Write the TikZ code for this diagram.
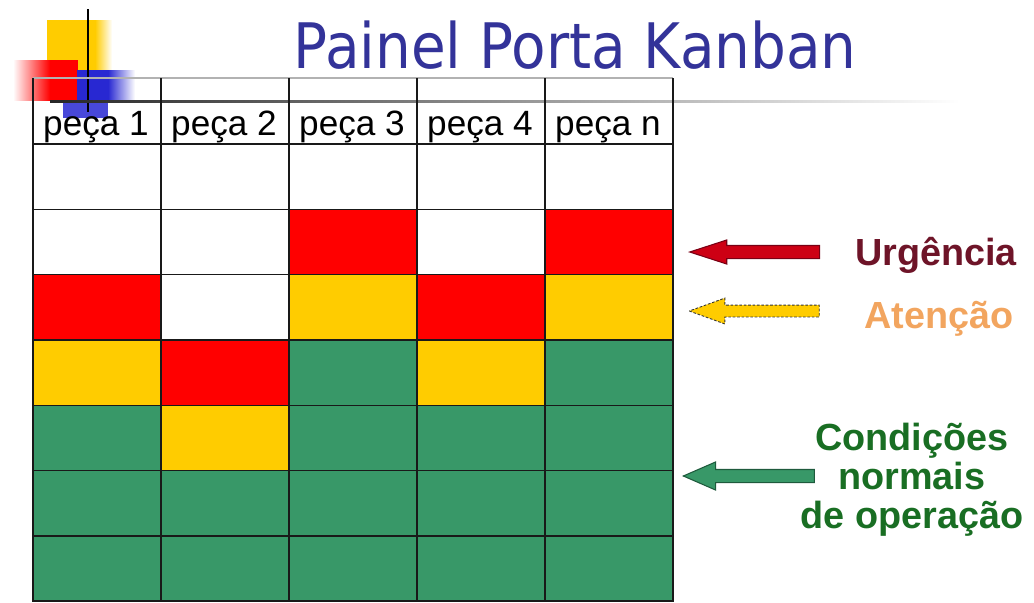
\documentclass[tikz,border=0pt]{standalone}
\usepackage{fontspec}
\setmainfont{Liberation Sans}
\newfontfamily\titlefont{DejaVu Sans}
\usepackage{tikz}
\usepackage{xcolor}
\definecolor{CellW}{RGB}{255, 255, 255}
\definecolor{CellR}{RGB}{255, 0, 0}
\definecolor{CellY}{RGB}{255, 204, 0}
\definecolor{CellG}{RGB}{56, 152, 104}
\definecolor{TitleBlue}{RGB}{51, 51, 153}
\definecolor{UrgRed}{RGB}{110, 20, 40}
\definecolor{AtenOrange}{RGB}{242, 165, 95}
\definecolor{CondGreen}{RGB}{25, 110, 35}
\definecolor{ArrowRed}{RGB}{205, 0, 20}
\definecolor{ArrowRedDark}{RGB}{120, 0, 20}
\definecolor{ArrowGreenDark}{RGB}{30, 90, 60}
\definecolor{DecoBlue}{RGB}{40, 40, 210}
\usetikzlibrary{shapes.arrows}

\begin{document}
\begin{tikzpicture}[x=0.2mm, y=-0.2mm,
    cell/.style={rectangle, minimum width=25.6mm, minimum height=13.06mm, inner sep=0pt, outer sep=0pt, draw=black!90, line width=0.8pt},
    head/.style={font=\fontsize{20}{24}\selectfont, text=black, anchor=base},
    title/.style={font=\titlefont\fontsize{35.7}{40}\selectfont, text=TitleBlue, anchor=base},
    note/.style={font=\bfseries\fontsize{21.5}{22}\selectfont, align=center, anchor=base},
    blockarrow/.style={single arrow, rotate=180, anchor=tip, inner xsep=0pt, line width=0.6pt}
]
\useasboundingbox (0,0) rectangle (1034,602);

% Slide decoration
\fill[CellY] (47,20) rectangle (95,72);
\shade[left color=CellY, right color=white] (95,20) rectangle (112,72);
\shade[left color=white, right color=CellR] (13,60) rectangle (50,100);
\fill[CellR] (50,60) rectangle (78,100);
\fill[DecoBlue] (77,70) rectangle (108,100);
\shade[left color=DecoBlue, right color=white] (108,70) rectangle (135,100);
\fill[DecoBlue!85] (63,100) rectangle (108,118);
\draw[black, line width=1pt] (88,9) -- (88,112);
\shade[left color=black!85, right color=white] (50,100) rectangle (960,102.5);

% Title
\node[title] (title) at (575,68) {\scalebox{0.9}[1]{Painel Porta Kanban}};

% Header row
\draw[black!30, line width=0.6pt] (33,78) -- (673,78);
\foreach \k in {0,...,5} {
    \draw[black!90, line width=0.8pt] ({33+128*\k},78) -- ({33+128*\k},144);
}
\foreach \lbl [count=\i] in {1,2,3,4,n} {
    \node[head] (head-\i) at ({96+128*(\i-1)}, 135) {peça \lbl};
}

% Kanban cells
\foreach \r/\cols in {1/{W,W,W,W,W}, 2/{W,W,R,W,R}, 3/{R,W,Y,R,Y}, 4/{Y,R,G,Y,G},
                      5/{G,Y,G,G,G}, 6/{G,G,G,G,G}, 7/{G,G,G,G,G}} {
    \foreach \c [count=\i] in \cols {
        \node[cell, fill=Cell\c] (cell-\r-\i) at ({97+128*(\i-1)}, {144+65.3*(\r-0.5)}) {};
    }
}

% Legend
\node[note, text=UrgRed] (urg) at (936,265) {Urgência};
\node[note, text=AtenOrange] (aten) at (939,328) {Atenção};
\node[note, text=CondGreen] (cond) at (912,528) {Condições\\normais\\de operação};

\node[blockarrow, fill=ArrowRed, draw=ArrowRedDark, minimum height=26mm, inner ysep=1.2mm,
      single arrow head extend=1.1mm, single arrow tip angle=36] (urgArrow) at (688,252) {};
\node[blockarrow, fill=CellY, draw=black!80, line width=0.5pt, dash pattern=on 1.5pt off 1pt,
      minimum height=26mm, inner ysep=1.1mm, single arrow head extend=1.4mm,
      single arrow tip angle=40] (atenArrow) at (688,311) {};
\node[blockarrow, fill=CellG, draw=ArrowGreenDark, minimum height=26.2mm, inner ysep=1.2mm,
      single arrow head extend=1.5mm, single arrow tip angle=47] (condArrow) at (682,476) {};

\end{tikzpicture}
\end{document}
